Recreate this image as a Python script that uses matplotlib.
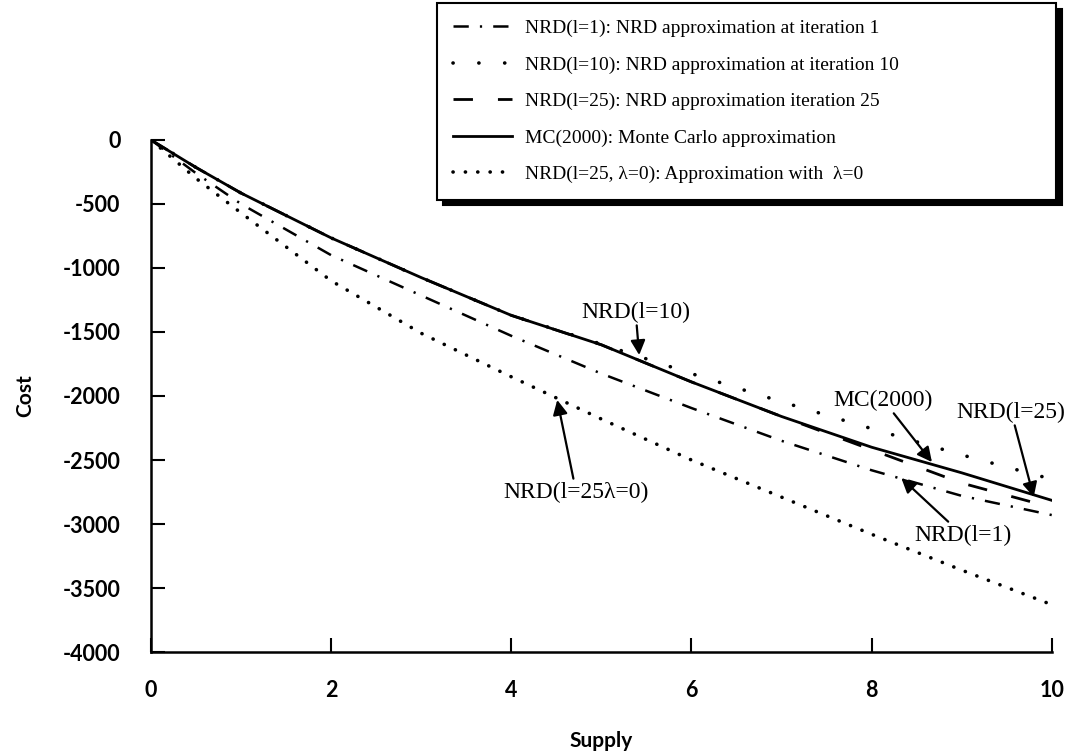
import numpy as np
import matplotlib
matplotlib.use('Agg')
import matplotlib.pyplot as plt

plt.rcParams['lines.scale_dashes'] = False
plt.rcParams['axes.unicode_minus'] = False

# values
supply = [0, 0.5, 1, 2, 3, 4, 5, 6, 7, 8, 9, 10]
nrd_1 = [0, -260, -500, -900, -1215, -1530, -1825, -2094, -2350, -2580, -2780, -2930]
nrd_10 = [0, -215, -415, -765, -1075, -1370, -1595, -1825, -2045, -2255, -2460, -2650]
nrd_25 = [0, -215, -415, -765, -1075, -1370, -1600, -1890, -2160, -2420, -2680, -2870]
mc_2000 = [0, -215, -415, -765, -1075, -1370, -1600, -1890, -2160, -2400, -2600, -2815]
nrd_lam0 = [0, -300, -570, -1100, -1510, -1850, -2180, -2500, -2790, -3080, -3360, -3630]

labels = ['NRD(l=1): NRD approximation at iteration 1',
          'NRD(l=10): NRD approximation at iteration 10',
          'NRD(l=25): NRD approximation iteration 25',
          'MC(2000): Monte Carlo approximation',
          'NRD(l=25, λ=0): Approximation with  λ=0']

serif = 'Liberation Serif'
tickfont = 'Lato'

fig = plt.figure(figsize=(10.71, 7.55), dpi=100)
ax = fig.add_axes([0.141, 0.1364, 0.841, 0.6782])

l1, = ax.plot(supply, nrd_1, color='k', lw=1.8, dashes=(11, 8, 1.6, 8))
l10, = ax.plot(supply, nrd_10, color='k', lw=2.6, dashes=(0.1, 18.5),
               dash_capstyle='round')
l25, = ax.plot(supply, nrd_25, color='k', lw=2.0, dashes=(14, 18))
lmc, = ax.plot(supply, mc_2000, color='k', lw=2.0)
l0, = ax.plot(supply, nrd_lam0, color='k', lw=2.6, dashes=(0.1, 8.8),
              dash_capstyle='round')

ax.set_xlim(0, 10)
ax.set_ylim(-4000, 0)
ax.set_xticks([0, 2, 4, 6, 8, 10])
ax.set_yticks(np.arange(-4000, 1, 500))
ax.spines['top'].set_visible(False)
ax.spines['right'].set_visible(False)
for s in ['left', 'bottom']:
    ax.spines[s].set_linewidth(1.8)
ax.tick_params(direction='in', length=10, width=1.5)
ax.tick_params(axis='y', pad=22)
ax.tick_params(axis='x', pad=20)
for t in ax.get_xticklabels() + ax.get_yticklabels():
    t.set_fontfamily(tickfont)
    t.set_fontweight('bold')
    t.set_fontsize(15.5)

ax.set_xlabel('Supply', fontfamily=tickfont, fontweight='bold', fontsize=15,
              labelpad=22)
ax.set_ylabel('Cost', fontfamily=tickfont, fontweight='bold', fontsize=15,
              labelpad=20)

arrow = dict(arrowstyle='-|>', color='k', lw=1.6, mutation_scale=22,
             shrinkA=0, shrinkB=0)
ann = dict(fontfamily=serif, fontsize=17, ha='center', va='center',
           arrowprops=arrow)
ax.annotate('NRD(l=10)', xy=(5.42, -1680), xytext=(5.38, -1344), **ann)
ax.annotate('MC(2000)', xy=(8.67, -2516), xytext=(8.13, -2031), **ann)
ax.annotate('NRD(l=25)', xy=(9.8, -2789), xytext=(9.55, -2125), **ann)
ax.annotate('NRD(l=1)', xy=(8.33, -2641), xytext=(9.01, -3086), **ann)
ax.annotate('NRD(l=25λ=0)', xy=(4.51, -2031), xytext=(4.72, -2750), **ann)

leg = fig.legend([l1, l10, l25, lmc, l0], labels, loc='upper left',
                 bbox_to_anchor=(0.408, 0.744, 0.578, 0.252), mode='expand',
                 borderaxespad=0,
                 prop={'family': serif, 'size': 14}, handlelength=3.0,
                 handletextpad=0.7,
                 labelspacing=0.97, borderpad=0.85, fancybox=False,
                 shadow={'ox': 4, 'oy': -4, 'color': 'black', 'alpha': 1},
                 edgecolor='black', framealpha=1)
leg.get_frame().set_linewidth(1.5)

fig.savefig('out.png', dpi=100)
